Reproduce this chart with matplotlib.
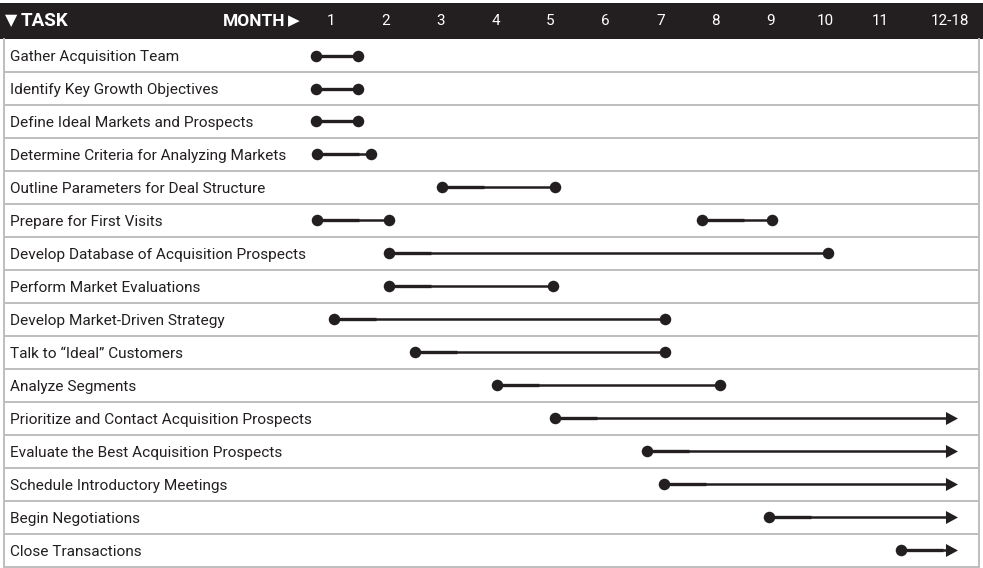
import matplotlib
matplotlib.use("Agg")
import matplotlib.pyplot as plt
from matplotlib.patches import Rectangle, Polygon

plt.rcParams['font.family'] = ['Roboto', 'DejaVu Sans']

tasks = [
    "Gather Acquisition Team",
    "Identify Key Growth Objectives",
    "Define Ideal Markets and Prospects",
    "Determine Criteria for Analyzing Markets",
    "Outline Parameters for Deal Structure",
    "Prepare for First Visits",
    "Develop Database of Acquisition Prospects",
    "Perform Market Evaluations",
    "Develop Market-Driven Strategy",
    "Talk to \u201cIdeal\u201d Customers",
    "Analyze Segments",
    "Prioritize and Contact Acquisition Prospects",
    "Evaluate the Best Acquisition Prospects",
    "Schedule Introductory Meetings",
    "Begin Negotiations",
    "Close Transactions",
]
# segments: (task index, start month, end month, ongoing arrow)
seg_task  = [0, 1, 2, 3, 4, 5, 5, 6, 7, 8, 9, 10, 11, 12, 13, 14, 15]
seg_start = [0.73, 0.73, 0.73, 0.75, 3.03, 0.75, 7.75, 2.05, 2.05, 1.05, 2.53, 4.03, 5.08, 6.75, 7.07, 8.98, 11.38]
seg_end   = [1.50, 1.50, 1.50, 1.72, 5.08, 2.05, 9.03, 10.05, 5.05, 7.08, 7.08, 8.08, 12.42, 12.42, 12.42, 12.42, 12.42]
seg_arrow = [False]*12 + [True]*5

month_labels = ["1", "2", "3", "4", "5", "6", "7", "8", "9", "10", "11", "12-18"]
month_pos    = [1, 2, 3, 4, 5, 6, 7, 8, 9, 10, 11, 12.27]

INK = "#231f20"
GRID = "#bcbec0"

W, H = 983, 568
PX_M = 54.9      # pixels per month
X0 = 331         # pixel of month 1
ROW = 33.0
Y0 = 55.5        # pixel of row 0 center

fig = plt.figure(figsize=(W/100, H/100), dpi=100)
ax = fig.add_axes([0, 0, 1, 1])
xmin = 1 - X0/PX_M
xmax = 1 + (W - X0)/PX_M
ymin = -Y0/ROW
ymax = (H - Y0)/ROW
ax.set_xlim(xmin, xmax)
ax.set_ylim(ymax, ymin)
ax.axis('off')

def px2x(p):
    return 1 + (p - X0)/PX_M

# header bar
hdr_top = (3 - Y0)/ROW
hdr_bot = -0.5
ax.add_patch(Rectangle((xmin, hdr_top), xmax - xmin, hdr_bot - hdr_top,
                       facecolor=INK, edgecolor='none', zorder=1))
hdr_mid = (hdr_top + hdr_bot)/2
ax.text(px2x(5), hdr_mid, "\u25BC", color='white', fontsize=11.5,
        ha='left', va='center', family=['DejaVu Sans'])
ax.text(px2x(21), hdr_mid, "TASK", color='white', fontsize=13.5,
        fontweight='bold', ha='left', va='center')
ax.text(px2x(285), hdr_mid, "MONTH", color='white', fontsize=12.5,
        fontweight='bold', ha='right', va='center')
ax.text(px2x(288), hdr_mid, "\u25B6", color='white', fontsize=11,
        ha='left', va='center', family=['DejaVu Sans'])
for lab, pos in zip(month_labels, month_pos):
    ax.text(pos, hdr_mid, lab, color='white', fontsize=11,
            ha='center', va='center')

# row grid lines
n = len(tasks)
for i in range(n):
    ax.plot([px2x(4), px2x(979)], [i + 0.5, i + 0.5], color=GRID, lw=1.4, zorder=1,
            solid_capstyle='butt')
ax.plot([px2x(4.5), px2x(4.5)], [hdr_bot, ymax], color=GRID, lw=1.4, zorder=1)
ax.plot([px2x(979), px2x(979)], [hdr_bot, ymax], color=GRID, lw=1.4, zorder=1)

# task labels
for i, t in enumerate(tasks):
    ax.text(px2x(10), i + 0.05, t, color=INK, fontsize=11.1, ha='left', va='center')

# segments
thick_len = 42/PX_M
ah_w = 12/PX_M   # arrow head length (x units)
ah_h = 6.5/ROW   # half height (y units)
for ti, s, e, arr in zip(seg_task, seg_start, seg_end, seg_arrow):
    line_end = e - ah_w*0.6 if arr else e
    ax.plot([s, line_end], [ti, ti], color=INK, lw=1.8, solid_capstyle='butt', zorder=3)
    ax.plot([s, min(s + thick_len, line_end)], [ti, ti], color=INK, lw=2.4,
            solid_capstyle='butt', zorder=3)
    ax.plot([s], [ti], 'o', color=INK, ms=8.3, mew=0, zorder=4)
    if arr:
        ax.add_patch(Polygon([[e - ah_w, ti - ah_h], [e, ti], [e - ah_w, ti + ah_h]],
                             closed=True, facecolor=INK, edgecolor='none', zorder=4))
    else:
        ax.plot([e], [ti], 'o', color=INK, ms=8.3, mew=0, zorder=4)

fig.savefig("out.png", dpi=100)
